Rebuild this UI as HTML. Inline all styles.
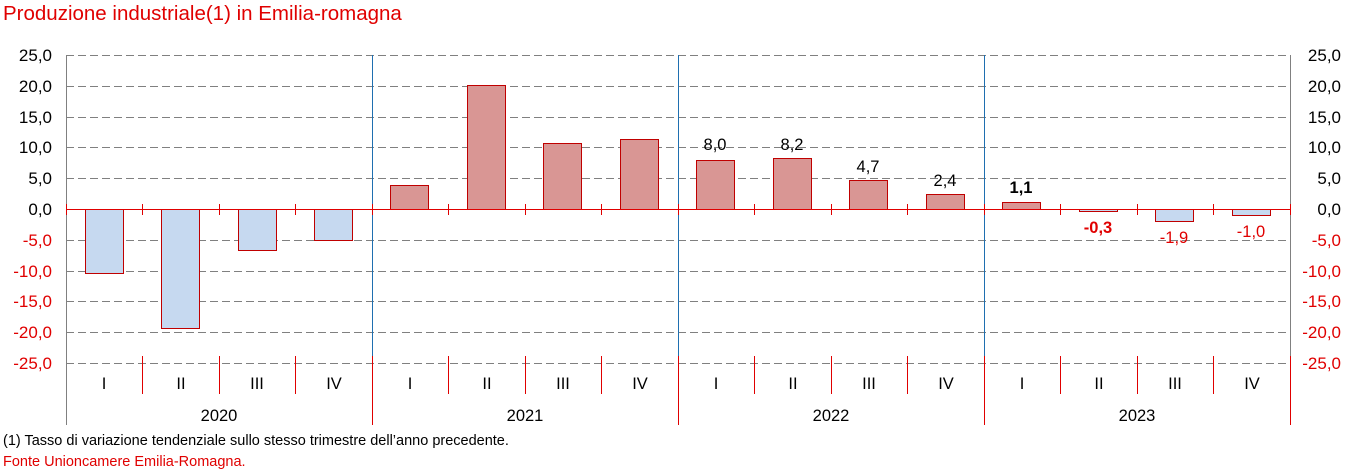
<!DOCTYPE html>
<html><head><meta charset="utf-8"><style>
body{margin:0;background:#fff;width:1354px;height:470px;overflow:hidden;font-family:"Liberation Sans",Arial,sans-serif}
</style></head><body>
<svg width="1354" height="470" xmlns="http://www.w3.org/2000/svg" font-family="Liberation Sans, Arial, sans-serif">
<text x="3" y="20" font-size="20.5" fill="#E00000">Produzione industriale(1) in Emilia-romagna</text>
<g stroke="#808080" stroke-width="1" stroke-dasharray="8,4">
<line x1="66" x2="1290" y1="55.5" y2="55.5"/><line x1="66" x2="1290" y1="86.5" y2="86.5"/><line x1="66" x2="1290" y1="117.5" y2="117.5"/><line x1="66" x2="1290" y1="147.5" y2="147.5"/><line x1="66" x2="1290" y1="178.5" y2="178.5"/>
<line x1="66" x2="1290" y1="240.5" y2="240.5"/><line x1="66" x2="1290" y1="271.5" y2="271.5"/><line x1="66" x2="1290" y1="301.5" y2="301.5"/><line x1="66" x2="1290" y1="332.5" y2="332.5"/><line x1="66" x2="1290" y1="363.5" y2="363.5"/>
</g>
<g stroke="#808080"><line x1="66.5" x2="66.5" y1="55" y2="425"/><line x1="1290.5" x2="1290.5" y1="55" y2="363"/></g>
<g stroke="#E00000"><line x1="1290.5" x2="1290.5" y1="356" y2="425"/></g>
<g stroke="#1F6FB0"><line x1="372.5" x2="372.5" y1="55" y2="356"/><line x1="678.5" x2="678.5" y1="55" y2="356"/><line x1="984.5" x2="984.5" y1="55" y2="356"/></g>
<g stroke="#E00000"><line x1="372.5" x2="372.5" y1="356" y2="425"/><line x1="678.5" x2="678.5" y1="356" y2="425"/><line x1="984.5" x2="984.5" y1="356" y2="425"/></g>
<g fill="#D99694" stroke="#C00000">
<rect x="390.5" y="185.5" width="38" height="24"/>
<rect x="467.5" y="85.5" width="38" height="124"/>
<rect x="543.5" y="143.5" width="38" height="66"/>
<rect x="620.5" y="139.5" width="38" height="70"/>
<rect x="696.5" y="160.5" width="38" height="49"/>
<rect x="773.5" y="158.5" width="38" height="51"/>
<rect x="849.5" y="180.5" width="38" height="29"/>
<rect x="926.5" y="194.5" width="38" height="15"/>
<rect x="1002.5" y="202.5" width="38" height="7"/>
</g>
<g fill="#C6D9F0" stroke="#C00000">
<rect x="85.5" y="209.5" width="38" height="64"/>
<rect x="161.5" y="209.5" width="38" height="119"/>
<rect x="238.5" y="209.5" width="38" height="41"/>
<rect x="314.5" y="209.5" width="38" height="31"/>
<rect x="1079.5" y="209.5" width="38" height="2"/>
<rect x="1155.5" y="209.5" width="38" height="12"/>
<rect x="1232.5" y="209.5" width="38" height="6"/>
</g>
<line x1="66" x2="1290" y1="209.5" y2="209.5" stroke="#E00000"/>
<g stroke="#E00000">
<path d="M66.5 204v11M142.5 204v11M219.5 204v11M295.5 204v11M372.5 204v11M448.5 204v11M525.5 204v11M601.5 204v11M678.5 204v11M754.5 204v11M831.5 204v11M907.5 204v11M984.5 204v11M1060.5 204v11M1137.5 204v11M1213.5 204v11M1290.5 204v11"/>
<path d="M142.5 356v38M219.5 356v38M295.5 356v38M448.5 356v38M525.5 356v38M601.5 356v38M754.5 356v38M831.5 356v38M907.5 356v38M1060.5 356v38M1137.5 356v38M1213.5 356v38"/>
</g>
<g font-size="17" text-anchor="end">
<text x="52" y="61">25,0</text><text x="52" y="92">20,0</text><text x="52" y="123">15,0</text><text x="52" y="153">10,0</text><text x="52" y="184">5,0</text><text x="52" y="215">0,0</text>
<g fill="#E00000"><text x="52" y="246">-5,0</text><text x="52" y="277">-10,0</text><text x="52" y="307">-15,0</text><text x="52" y="338">-20,0</text><text x="52" y="369">-25,0</text></g>
</g>
<g font-size="17" text-anchor="end">
<text x="1341" y="61">25,0</text><text x="1341" y="92">20,0</text><text x="1341" y="123">15,0</text><text x="1341" y="153">10,0</text><text x="1341" y="184">5,0</text><text x="1341" y="215">0,0</text>
<g fill="#E00000"><text x="1341" y="246">-5,0</text><text x="1341" y="277">-10,0</text><text x="1341" y="307">-15,0</text><text x="1341" y="338">-20,0</text><text x="1341" y="369">-25,0</text></g>
</g>
<g font-size="16.5" text-anchor="middle">
<text x="715" y="150">8,0</text><text x="792" y="150">8,2</text><text x="868" y="172">4,7</text><text x="945" y="186">2,4</text>
<text x="1021" y="193" font-weight="bold">1,1</text>
<text x="1098" y="233" font-weight="bold" fill="#E00000">-0,3</text>
<text x="1174" y="243" fill="#E00000">-1,9</text>
<text x="1251" y="237" fill="#E00000">-1,0</text>
</g>
<g font-size="16.5" text-anchor="middle">
<text x="104" y="389">I</text><text x="181" y="389">II</text><text x="257" y="389">III</text><text x="334" y="389">IV</text>
<text x="410" y="389">I</text><text x="487" y="389">II</text><text x="563" y="389">III</text><text x="640" y="389">IV</text>
<text x="716" y="389">I</text><text x="793" y="389">II</text><text x="869" y="389">III</text><text x="946" y="389">IV</text>
<text x="1022" y="389">I</text><text x="1099" y="389">II</text><text x="1175" y="389">III</text><text x="1252" y="389">IV</text>
<text x="219" y="421">2020</text><text x="525" y="421">2021</text><text x="831" y="421">2022</text><text x="1137" y="421">2023</text>
</g>
<text x="3" y="445" font-size="14.5">(1) Tasso di variazione tendenziale sullo stesso trimestre dell’anno precedente.</text>
<text x="3" y="466" font-size="14.5" fill="#E00000">Fonte Unioncamere Emilia-Romagna.</text>
</svg>
</body></html>
